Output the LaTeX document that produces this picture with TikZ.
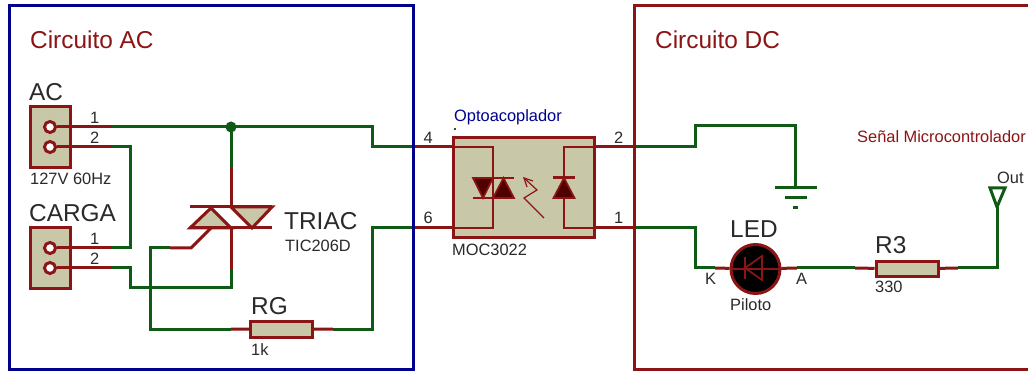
\documentclass[tikz,border=0pt]{standalone}
\usepackage{fontspec}
\setmainfont{Liberation Sans}
\usepackage{tikz}
\usetikzlibrary{positioning, calc}

\definecolor{wirered}{HTML}{8B1414}
\definecolor{wiregreen}{HTML}{0F5A14}
\definecolor{bodyfill}{HTML}{C8C8A8}
\definecolor{diodefill}{HTML}{500000}
\definecolor{frameblue}{HTML}{00008C}
\definecolor{labelgray}{HTML}{2A2A2A}

\tikzset{
  greenwire/.style={draw=wiregreen, line width=3pt, line join=miter},
  stub/.style={draw=wirered, line width=3pt},
  thin stub/.style={draw=wirered, line width=1.7pt},
  body/.style={draw=wirered, fill=bodyfill, line width=3pt, inner sep=0pt, rectangle},
  pinhole/.style={circle, draw=wirered, fill=white, line width=3pt, minimum size=11pt, inner sep=0pt},
  bigtext/.style={anchor=west, inner sep=0pt, text=labelgray, font=\fontsize{24.4}{24.4}\selectfont},
  smalltext/.style={anchor=west, inner sep=0pt, text=labelgray, font=\fontsize{16.4}{16.4}\selectfont},
  titletext/.style={anchor=west, inner sep=0pt, text=wirered, font=\fontsize{24.4}{24.4}\selectfont},
}

\begin{document}
\begin{tikzpicture}[x=1pt,y=-1pt]
      \useasboundingbox (0,0) rectangle (1028,371);
      \fill[white] (0,0) rectangle (1028,371);

      % Connectors
      \node[body, minimum width=40pt, minimum height=61pt] (acbox) at (50,137.5) {};
      \node[pinhole] (acone) at (50,127) {};
      \node[pinhole] (actwo) at (50,147) {};
      \node[body, minimum width=40pt, minimum height=61pt] (cargabox) at (50,258.5) {};
      \node[pinhole] (cargaone) at (50,248) {};
      \node[pinhole] (cargatwo) at (50,268) {};

      % Points on the wires
      \coordinate (acoutA) at (111,127);
      \coordinate (junction) at (231,127);
      \coordinate (acbendA) at (372,127);
      \coordinate (acbendB) at (372,147);
      \coordinate (pinfourout) at (413,147);
      \coordinate (pinfour) at (453,147);
      \coordinate (acoutB) at (111,147);
      \coordinate (acbendC) at (130,147);
      \coordinate (acbendD) at (130,248);
      \coordinate (cargaoutA) at (111,248);
      \coordinate (cargaoutB) at (111,268);
      \coordinate (cargabendA) at (130,268);
      \coordinate (cargabendB) at (130,288);
      \coordinate (cargabendC) at (231,288);
      \coordinate (triacdown) at (231,270);
      \coordinate (triacup) at (231,167);
      \coordinate (triactop) at (231,207);
      \coordinate (triacbot) at (231,228);
      \coordinate (gatepin) at (211,228);
      \coordinate (gateknee) at (191,248);
      \coordinate (gateout) at (170,248);
      \coordinate (gatebendA) at (150,248);
      \coordinate (gatebendB) at (150,329);
      \coordinate (rgin) at (231,329);
      \coordinate (rgout) at (333,329);
      \coordinate (rgbend) at (372,329);
      \coordinate (sixbend) at (372,228);
      \coordinate (pinsixout) at (413,228);
      \coordinate (pinsix) at (453,228);

      \coordinate (pintwo) at (594,147);
      \coordinate (pintwoout) at (634,147);
      \coordinate (pinone) at (594,228);
      \coordinate (pinoneout) at (634,228);
      \coordinate (gndbendA) at (695,147);
      \coordinate (gndbendB) at (695,126);
      \coordinate (gndbendC) at (795,126);
      \coordinate (gndtop) at (795,188);
      \coordinate (ledbendA) at (695,228);
      \coordinate (ledbendB) at (695,268);
      \coordinate (ledin) at (715,268);
      \coordinate (ledout) at (797,268);
      \coordinate (rthreein) at (855,268);
      \coordinate (rthreeout) at (958,268);
      \coordinate (outbend) at (997,268);
      \coordinate (outtip) at (997,207);

      % Green wires
      \draw[greenwire] (acoutA) -- (acbendA) -- (acbendB) -- (pinfourout);
      \draw[greenwire] (junction) -- (triacup);
      \draw[greenwire] (acoutB) -- (acbendC) -- (acbendD) -- (cargaoutA);
      \draw[greenwire] (cargaoutB) -- (cargabendA) -- (cargabendB) -- (cargabendC) -- (triacdown);
      \draw[greenwire] (gateout) -- (gatebendA) -- (gatebendB) -- (rgin);
      \draw[greenwire] (rgout) -- (rgbend) -- (sixbend) -- (pinsixout);
      \draw[greenwire] (pintwoout) -- (gndbendA) -- (gndbendB) -- (gndbendC) -- (gndtop);
      \draw[greenwire] (pinoneout) -- (ledbendA) -- (ledbendB) -- (ledin);
      \draw[greenwire] (ledout) -- (rthreein);
      \draw[greenwire] (rthreeout) -- (outbend) -- (outtip);
      \fill[wiregreen] (junction) circle[radius=5.5pt];

      % Red pin ends
      \draw[stub] (acone) -- (acoutA);
      \draw[stub] (actwo) -- (acoutB);
      \draw[stub] (cargaone) -- (cargaoutA);
      \draw[stub] (cargatwo) -- (cargaoutB);
      \draw[stub] (triacup) -- (triactop);
      \draw[stub] (triacbot) -- (triacdown);
      \draw[stub] (gatepin) -- (gateknee) -- (gateout);
      \draw[stub] (pinfourout) -- (pinfour);
      \draw[stub] (pinsixout) -- (pinsix);
      \draw[stub] (pintwo) -- (pintwoout);
      \draw[stub] (pinone) -- (pinoneout);

      % TRIAC
      \draw[stub, fill=bodyfill, line join=miter] (190,228) -- (211,208) -- (231,228) -- cycle;
      \draw[stub, fill=bodyfill, line join=miter] (231,207) -- (272,207) -- (252,228) -- cycle;
      \draw[stub] (190,207) -- (272,207);
      \draw[stub] (190,228) -- (272,228);

      % Resistors
      \node[body, minimum width=62pt, minimum height=15pt] (rg) at (281.5,329.5) {};
      \draw[stub] (rgin) -- (rg);
      \draw[stub] (rg) -- (rgout);
      \node[body, minimum width=62pt, minimum height=15pt] (rthree) at (907,269) {};
      \draw[stub] (rthreein) -- (rthree);
      \draw[stub] (rthree) -- (rthreeout);

      % Optocoupler
      \node[body, minimum width=141pt, minimum height=100pt] (moc) at (523.5,188) {};
      \fill[black] (455,129) circle[radius=1.2pt];
      \draw[thin stub] (pinfour) -- (493,147) -- (493,228) -- (pinsix);
      \draw[thin stub] (pintwo) -- (564,147) -- (564,228) -- (pinone);
      \draw[thin stub, fill=diodefill] (473,178) -- (493,178) -- (483,198) -- cycle;
      \draw[thin stub, fill=diodefill] (493,198) -- (514,198) -- (503.5,178) -- cycle;
      \draw[thin stub] (493,178) -- (514,178);
      \draw[thin stub] (473,198) -- (493,198);
      \draw[stub] (553,178) -- (575,178);
      \draw[thin stub, fill=diodefill] (553.5,198) -- (574.5,198) -- (564,178) -- cycle;
      \draw[wirered, line width=1.2pt] (524,178) -- (537,190) -- (524,198) -- (544,218);
      \draw[wirered, line width=1.2pt] (527,187) -- (524,178) -- (533,181);

      % LED
      \node[circle, draw=wirered, fill=black, line width=3pt, minimum size=49pt, inner sep=0pt] (led) at (755.5,269) {};
      \draw[stub] (ledin) -- (led);
      \draw[stub] (led) -- (ledout);
      \draw[wirered, line width=1.7pt] (led.west) -- (led.east);
      \draw[wirered, line width=1.7pt] (762,256) -- (762,280) -- (745,268) -- cycle;
      \draw[wirered, line width=2pt] (745,257) -- (745,279);

      % Ground and output
      \draw[greenwire] (775,188) -- (817,188);
      \draw[greenwire] (785,198) -- (807,198);
      \draw[greenwire] (793,208) -- (798,208);
      \draw[greenwire] (990,188) -- (1005,188) -- (outtip) -- cycle;

      % Frames
      \draw[frameblue, line width=3pt] (9,6) rectangle (413,369);
      \draw[wirered, line width=3pt] (1030,6) -- (634,6) -- (634,369) -- (1030,369);

      % Labels
      \node[titletext] (titleac) at (30,40) {Circuito AC};
      \node[titletext] (titledc) at (655,40) {Circuito DC};
      \node[smalltext, text=wirered] (signal) at (857,137) {Señal Microcontrolador};
      \node[smalltext] (outlabel) at (997,178) {Out};
      \node[smalltext, text=frameblue] (optolabel) at (454,117) {Optoacoplador};
      \node[smalltext] (moclabel) at (452,250) {MOC3022};
      \node[bigtext] (aclabel) at (29,92) {AC};
      \node[smalltext] (hzlabel) at (30,179) {127V 60Hz};
      \node[bigtext] (cargalabel) at (29,213) {CARGA};
      \node[bigtext] (triaclabel) at (284,221) {TRIAC};
      \node[smalltext] (ticlabel) at (285,246) {TIC206D};
      \node[bigtext] (rglabel) at (251,306) {RG};
      \node[smalltext] (kohm) at (251,350) {1k};
      \node[bigtext] (ledlabel) at (730,229) {LED};
      \node[smalltext] (pilotolabel) at (730,305) {Piloto};
      \node[smalltext] (klabel) at (705,279) {K};
      \node[smalltext] (alabel) at (796,279) {A};
      \node[bigtext] (rthreelabel) at (875,245) {R3};
      \node[smalltext] (ohmlabel) at (875,287) {330};

      % Pin numbers
      \node[smalltext] (numacone) at (90,118) {1};
      \node[smalltext] (numactwo) at (90,138) {2};
      \node[smalltext] (numcargaone) at (90,239) {1};
      \node[smalltext] (numcargatwo) at (90,259) {2};
      \node[smalltext] (numfour) at (423.5,138) {4};
      \node[smalltext] (numsix) at (423.5,218) {6};
      \node[smalltext] (numtwo) at (614,138) {2};
      \node[smalltext] (numone) at (614,218) {1};
  \end{tikzpicture}
\end{document}
